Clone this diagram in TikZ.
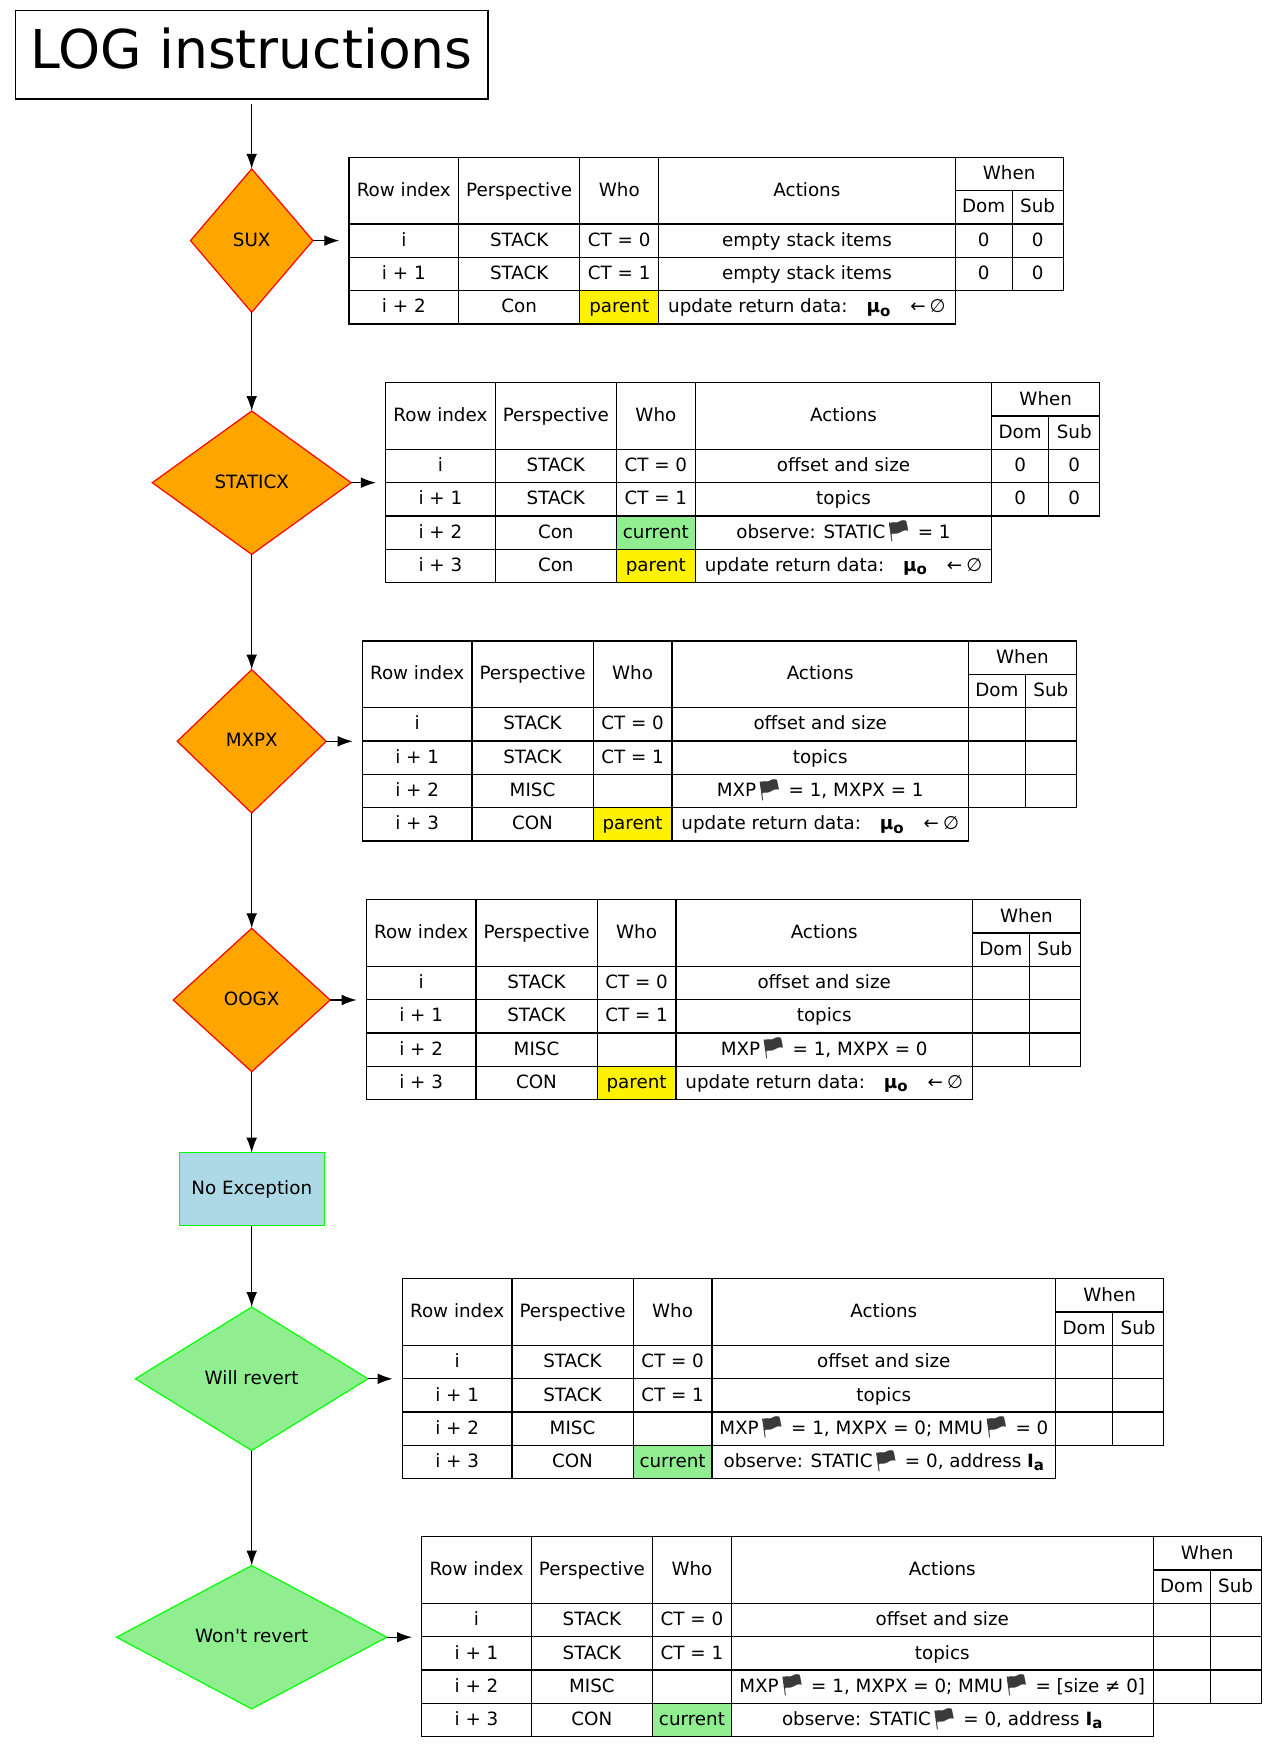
\documentclass[tikz,border=0pt]{standalone}
\usepackage{fontspec}
\usepackage{xcolor}
\setmainfont{DejaVu Sans}
\newfontfamily\emojifont{Noto Emoji}
\usetikzlibrary{positioning,calc,shapes.geometric,arrows.meta}

\definecolor{instrfill}{HTML}{FFA500}
\definecolor{revertfill}{HTML}{90EE90}
\definecolor{okfill}{HTML}{ADD8E6}
\definecolor{flaggray}{HTML}{3A3A3A}

\tikzset{
	lbl/.style={inner sep=0pt,outer sep=0pt,align=center,font=\fontsize{18.3}{20}\selectfont,text height=13pt,text depth=1.74pt},
	cell/.style={lbl,draw=black,line width=1.2pt},
	parentcell/.style={fill=yellow},
	currentcell/.style={fill=revertfill},
	instr/.style={lbl,diamond,aspect=1,draw=red,fill=instrfill,line width=1.2pt,minimum height=143.4pt},
	revert/.style={lbl,diamond,aspect=1,draw=green,fill=revertfill,line width=1.2pt,minimum height=143.4pt},
	link/.style={draw=black,line width=1.2pt,-{Latex[length=15pt,width=10.7pt]}}
}

\def\rowh{33.33}
\def\cola{109.6}
\def\colb{121.2}
\def\colc{78.9}
\def\cold{57}
\def\cole{51}

\newcommand{\flagmark}{{\emojifont\fontsize{21}{21}\selectfont\textcolor{flaggray}{\raisebox{-0.6pt}{\symbol{"1F3F4}}}}}
\newcommand{\subbf}[1]{\raisebox{-3.3pt}{\fontsize{15}{15}\selectfont\bfseries #1}}
\newcommand{\updatedata}{update return data:\hspace{19pt}\textbf{μ}\subbf{o}\hspace{20pt}←\hspace{4pt}∅}

% name, left, top, width, height, style, text
\newcommand{\logcell}[7]{\node[cell,#6,minimum width=(#4)*1pt,minimum height=(#5)*1pt] (#1) at ({#2+(#4)/2},{#3+(#5)/2}) {#7};}

\newcommand{\loghead}[1]{
	\logcell{#1-idx}{\tx}{\ty}{\cola}{2*\rowh}{}{Row index}
	\logcell{#1-persp}{\tx+\cola}{\ty}{\colb}{2*\rowh}{}{Perspective}
	\logcell{#1-who}{\tx+\cola+\colb}{\ty}{\colc}{2*\rowh}{}{Who}
	\logcell{#1-act}{\tx+\cola+\colb+\colc}{\ty}{\aw}{2*\rowh}{}{Actions}
	\logcell{#1-when}{\tx+\cola+\colb+\colc+\aw}{\ty}{\cold+\cole}{\rowh}{}{When}
	\logcell{#1-dom}{\tx+\cola+\colb+\colc+\aw}{\ty+\rowh}{\cold}{\rowh}{}{Dom}
	\logcell{#1-sub}{\tx+\cola+\colb+\colc+\aw+\cold}{\ty+\rowh}{\cole}{\rowh}{}{Sub}
}

% [who style], name, row, index, perspective, who, action
\newcommand{\logrow}[7][]{
	\logcell{#2-#3-idx}{\tx}{\ty+(#3+1)*\rowh}{\cola}{\rowh}{}{#4}
	\logcell{#2-#3-persp}{\tx+\cola}{\ty+(#3+1)*\rowh}{\colb}{\rowh}{}{#5}
	\logcell{#2-#3-who}{\tx+\cola+\colb}{\ty+(#3+1)*\rowh}{\colc}{\rowh}{#1}{#6}
	\logcell{#2-#3-act}{\tx+\cola+\colb+\colc}{\ty+(#3+1)*\rowh}{\aw}{\rowh}{}{#7}
}
\newcommand{\logwhen}[4]{
	\logcell{#1-#2-dom}{\tx+\cola+\colb+\colc+\aw}{\ty+(#2+1)*\rowh}{\cold}{\rowh}{}{#3}
	\logcell{#1-#2-sub}{\tx+\cola+\colb+\colc+\aw+\cold}{\ty+(#2+1)*\rowh}{\cole}{\rowh}{}{#4}
}

\begin{document}
\begin{tikzpicture}[x=1pt,y=-1pt]
	\useasboundingbox (0,0) rectangle (1277,1748);

	% flow
	\node[draw=black,line width=1.2pt,inner sep=0pt,outer sep=0pt,font=\fontsize{53.5}{60}\selectfont,text height=38.6pt,text depth=11.4pt,minimum width=472.7pt,minimum height=88.7pt] (title) at (251.7,54.7) {LOG instructions};
	\node[instr,minimum width=122.4pt] (sux) at (251.7,240.6) {SUX};
	\node[instr,minimum width=198.8pt] (staticx) at (251.7,482.7) {STATICX};
	\node[instr,minimum width=149pt] (mxpx) at (251.7,741.3) {MXPX};
	\node[instr,minimum width=157pt] (oogx) at (251.7,1000) {OOGX};
	\node[lbl,draw=green,fill=okfill,line width=1.2pt,minimum width=145pt,minimum height=73pt] (noexc) at (251.7,1189.2) {No Exception};
	\node[revert,minimum width=232.6pt] (willrevert) at (251.7,1378.8) {Will revert};
	\node[revert,minimum width=270.4pt] (wontrevert) at (251.7,1637.2) {Won\textquotesingle t revert};

	\draw[link,shorten <=5.3pt] (title) -- (sux);
	\draw[link] (sux) -- (staticx);
	\draw[link] (staticx) -- (mxpx);
	\draw[link] (mxpx) -- (oogx);
	\draw[link] (oogx) -- (noexc);
	\draw[link] (noexc) -- (willrevert);
	\draw[link] (willrevert) -- (wontrevert);

	% SUX
	\def\tx{349}\def\ty{157.3}\def\aw{296.4}
	\loghead{suxtab}
	\logrow{suxtab}{1}{i}{STACK}{CT = 0}{empty stack items}
	\logwhen{suxtab}{1}{0}{0}
	\logrow{suxtab}{2}{i + 1}{STACK}{CT = 1}{empty stack items}
	\logwhen{suxtab}{2}{0}{0}
	\logrow[parentcell]{suxtab}{3}{i + 2}{Con}{parent}{\updatedata}
	\draw[link,shorten >=9.7pt] (sux) -- (sux.east -| suxtab-idx.west);

	% STATICX
	\def\tx{385.6}\def\ty{382.7}\def\aw{296.4}
	\loghead{statictab}
	\logrow{statictab}{1}{i}{STACK}{CT = 0}{offset and size}
	\logwhen{statictab}{1}{0}{0}
	\logrow{statictab}{2}{i + 1}{STACK}{CT = 1}{topics}
	\logwhen{statictab}{2}{0}{0}
	\logrow[currentcell]{statictab}{3}{i + 2}{Con}{current}{observe: STATIC\flagmark{} = 1}
	\logrow[parentcell]{statictab}{4}{i + 3}{Con}{parent}{\updatedata}
	\draw[link,shorten >=9.7pt] (staticx) -- (staticx.east -| statictab-idx.west);

	% MXPX
	\def\tx{362.3}\def\ty{641}\def\aw{296.4}
	\loghead{mxpxtab}
	\logrow{mxpxtab}{1}{i}{STACK}{CT = 0}{offset and size}
	\logwhen{mxpxtab}{1}{}{}
	\logrow{mxpxtab}{2}{i + 1}{STACK}{CT = 1}{topics}
	\logwhen{mxpxtab}{2}{}{}
	\logrow{mxpxtab}{3}{i + 2}{MISC}{}{MXP\flagmark{} = 1, MXPX = 1}
	\logwhen{mxpxtab}{3}{}{}
	\logrow[parentcell]{mxpxtab}{4}{i + 3}{CON}{parent}{\updatedata}
	\draw[link,shorten >=9.7pt] (mxpx) -- (mxpx.east -| mxpxtab-idx.west);

	% OOGX
	\def\tx{366.3}\def\ty{899.7}\def\aw{296.4}
	\loghead{oogxtab}
	\logrow{oogxtab}{1}{i}{STACK}{CT = 0}{offset and size}
	\logwhen{oogxtab}{1}{}{}
	\logrow{oogxtab}{2}{i + 1}{STACK}{CT = 1}{topics}
	\logwhen{oogxtab}{2}{}{}
	\logrow{oogxtab}{3}{i + 2}{MISC}{}{MXP\flagmark{} = 1, MXPX = 0}
	\logwhen{oogxtab}{3}{}{}
	\logrow[parentcell]{oogxtab}{4}{i + 3}{CON}{parent}{\updatedata}
	\draw[link,shorten >=9.7pt] (oogx) -- (oogx.east -| oogxtab-idx.west);

	% Will revert
	\def\tx{402.3}\def\ty{1278.7}\def\aw{343.6}
	\loghead{willtab}
	\logrow{willtab}{1}{i}{STACK}{CT = 0}{offset and size}
	\logwhen{willtab}{1}{}{}
	\logrow{willtab}{2}{i + 1}{STACK}{CT = 1}{topics}
	\logwhen{willtab}{2}{}{}
	\logrow{willtab}{3}{i + 2}{MISC}{}{MXP\flagmark{} = 1, MXPX = 0; MMU\flagmark{} = 0}
	\logwhen{willtab}{3}{}{}
	\logrow[currentcell]{willtab}{4}{i + 3}{CON}{current}{observe: STATIC\flagmark{} = 0, address \textbf{I}\subbf{a}}
	\draw[link,shorten >=9.7pt] (willrevert) -- (willrevert.east -| willtab-idx.west);

	% Won't revert
	\def\tx{421.7}\def\ty{1536.7}\def\aw{421.7}
	\loghead{wonttab}
	\logrow{wonttab}{1}{i}{STACK}{CT = 0}{offset and size}
	\logwhen{wonttab}{1}{}{}
	\logrow{wonttab}{2}{i + 1}{STACK}{CT = 1}{topics}
	\logwhen{wonttab}{2}{}{}
	\logrow{wonttab}{3}{i + 2}{MISC}{}{MXP\flagmark{} = 1, MXPX = 0; MMU\flagmark{} = [size ≠ 0]}
	\logwhen{wonttab}{3}{}{}
	\logrow[currentcell]{wonttab}{4}{i + 3}{CON}{current}{observe: STATIC\flagmark{} = 0, address \textbf{I}\subbf{a}}
	\draw[link,shorten >=9.7pt] (wontrevert) -- (wontrevert.east -| wonttab-idx.west);
\end{tikzpicture}
\end{document}
